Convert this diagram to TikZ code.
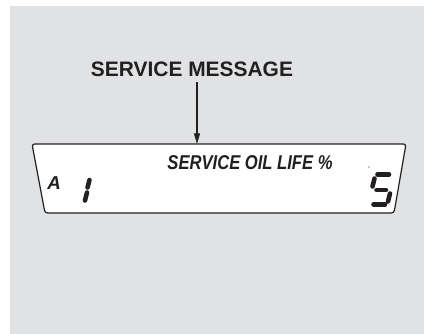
\documentclass[tikz,border=0pt]{standalone}
\usepackage{fontspec}
\setmainfont{Liberation Sans}
\usepackage{graphicx}
\usetikzlibrary{arrows.meta}
\definecolor{ink}{HTML}{231F20}
\definecolor{panel}{HTML}{E1E2E4}

\begin{document}
\begin{tikzpicture}[x=0.75pt,y=-0.75pt,font=\bfseries,text=ink,>={Triangle[length=8pt,width=4.5pt]},
    lcdseg/.style={ink,line width=3.4pt,line cap=round}]
  \useasboundingbox (0,0) rectangle (424,334);
  \fill[panel] (10,6) rectangle (424,334);

  % display window
  \fill[white,rounded corners=2pt] (32,144)--(406,144)--(394,213)--(45,213)--cycle;
  \draw[ink,line width=0.9pt,rounded corners=2pt] (32,144)--(406,144)--(394,213)--(45,213)--cycle;
  \coordinate (dtop) at (197,144);

  \node[font=\bfseries\fontsize{15.7}{17}\selectfont] (msg) at (192,69) {SERVICE MESSAGE};
  \draw[->,ink,line width=0.8pt] (197,82)--(dtop);

  \node[font=\bfseries\itshape\fontsize{15}{16}\selectfont] (oil) at (250,163)
    {\scalebox{0.83}[1]{SERVICE OIL LIFE \%}};
  \node[font=\bfseries\itshape\fontsize{14}{15}\selectfont] (gear) at (54,183) {A};

  % digit 1
  \draw[lcdseg] (89.5,180)--(87.5,187.5);
  \draw[lcdseg] (87,192.5)--(85,200.5);
  % digit 5
  \fill[ink] (369,167) circle (0.5pt);
  \draw[lcdseg] (377.5,174.5)--(389,174.5);
  \draw[lcdseg] (374.5,178.5)--(372.5,186.5);
  \draw[lcdseg] (376.5,190)--(386,190);
  \draw[lcdseg] (390,193.5)--(388,201.5);
  \draw[lcdseg] (373.5,204.5)--(385,204.5);
\end{tikzpicture}
\end{document}
